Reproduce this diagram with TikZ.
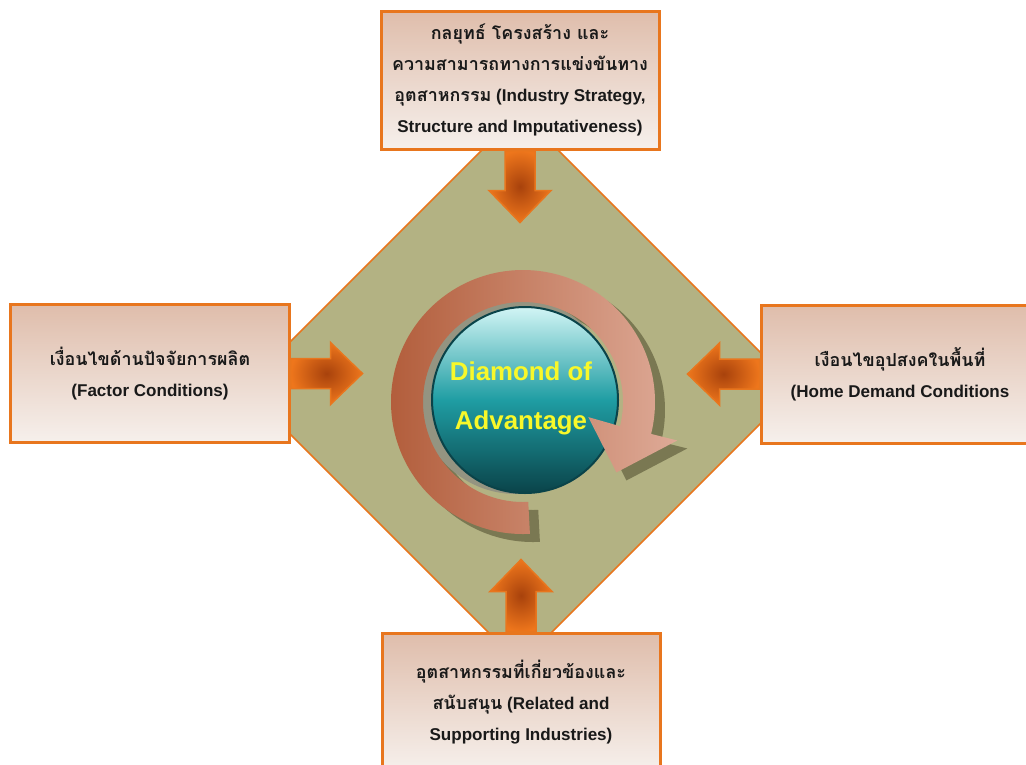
\documentclass[tikz,border=0pt]{standalone}
\usepackage{fontspec}
\setmainfont{Liberation Sans}
\newfontfamily\thaifont[Script=Thai,Scale=1.05]{Loma}
\usepackage{xcolor}
\usetikzlibrary{calc,shapes}

\definecolor{boxline}{HTML}{E8761E}
\definecolor{boxtop}{HTML}{DFBDAB}
\definecolor{boxbottom}{HTML}{F6F0EC}
\definecolor{olive}{HTML}{B3B283}
\definecolor{arrowout}{HTML}{EE761C}
\definecolor{arrowin}{HTML}{A8420C}
\definecolor{ringdark}{HTML}{B25D3B}
\definecolor{ringlight}{HTML}{DEAA97}
\definecolor{ringshadow}{HTML}{7A7852}
\definecolor{spheretop}{HTML}{D2F5F5}
\definecolor{spheremid}{HTML}{1F9DA3}
\definecolor{spherebot}{HTML}{0A4349}
\definecolor{labelyellow}{HTML}{F8F82A}

\tikzset{
    infobox/.style={draw=boxline, line width=0.6mm, top color=boxtop, bottom color=boxbottom,
        minimum width=55.6mm, minimum height=27.6mm, align=center, text=black!90,
        font=\fontsize{9.7}{17.6}\selectfont\bfseries},
    bigarrow/.style={draw=boxline, line width=0.3mm, shading=radial, inner color=arrowin, outer color=arrowout}
}

\begin{document}
\begin{tikzpicture}[x=0.2mm,y=-0.2mm]

    \useasboundingbox (0,0) rectangle (1026,764);
    \clip (0,0) rectangle (1026,764);
    \fill[white] (0,0) rectangle (1026,764);

    \filldraw[olive, draw=boxline, line width=0.3mm] (520,112) -- (796,388) -- (520,664) -- (244,388) -- cycle;

    \node[infobox] (strategy) at (520,80) {{\thaifont กลยุทธ์ โครงสร้าง และ}\\{\thaifont ความสามารถทางการแข่งขันทาง}\\{\thaifont อุตสาหกรรม} (Industry Strategy,\\Structure and Imputativeness)};
    \node[infobox] (factor) at (150,373.5) {{\thaifont เงื่อนไขด้านปัจจัยการผลิต}\\(Factor Conditions)};
    \node[infobox] (demand) at (900,374) {{\thaifont เงือนไขอุปสงคในพื้นที่}\\(Home Demand Conditions};
    \node[infobox] (support) at (521,702) {{\thaifont อุตสาหกรรมที่เกี่ยวข้องและ}\\{\thaifont สนับสนุน} (Related and\\Supporting Industries)};

    \foreach \anc/\ang in {factor.east/0, demand.west/180, strategy.south/-90, support.north/90} {
        \path[bigarrow, shift={(\anc)}, rotate=\ang]
            (0,-15) -- (40,-15) -- (40,-31) -- (72,0) -- (40,31) -- (40,15) -- (0,15) -- cycle;
    }

    \coordinate (hub) at (523,402);
    \coordinate (shadowhub) at (533,410);

    \fill[ringshadow] ($(shadowhub)+(87:132)$) arc (87:374:132) -- ($(shadowhub)+(374:159)$)
        -- ($(shadowhub)+(397:117)$) -- ($(shadowhub)+(373:67)$) -- ($(shadowhub)+(374:100)$) arc (374:87:100) -- cycle;

    \fill[gray!60!olive] ($(hub)+(-7,-6)$) circle (98);
    \shade[top color=spheretop, bottom color=spherebot, middle color=spheremid] ($(hub)+(2,-2)$) circle (93);
    \draw[spherebot, line width=0.4mm] ($(hub)+(2,-2)$) circle (93);

    \shade[left color=ringdark, right color=ringlight] ($(hub)+(87:132)$) arc (87:374:132) -- ($(hub)+(374:159)$)
        -- ($(hub)+(397:117)$) -- ($(hub)+(373:67)$) -- ($(hub)+(374:100)$) arc (374:87:100) -- cycle;

    \node[align=center, text=labelyellow, font=\fontsize{14.7}{28}\selectfont\bfseries] (core) at (521,398) {Diamond of\\Advantage};
  \end{tikzpicture}
\end{document}
